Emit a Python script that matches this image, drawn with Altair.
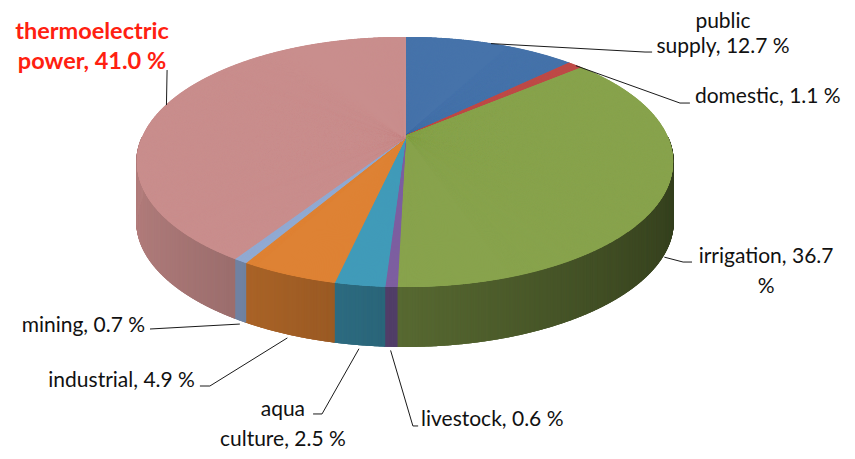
import numpy as np
import pandas as pd
import altair as alt

# ---------------- data ----------------
categories = ["public supply", "domestic", "irrigation", "livestock",
              "aquaculture", "industrial", "mining", "thermoelectric power"]
shares = [12.7, 1.1, 36.7, 0.6, 2.5, 4.9, 0.7, 41.0]
label_lines = [["public", "supply, 12.7 %"], ["domestic, 1.1 %"],
               ["irrigation, 36.7", "%"], ["livestock, 0.6 %"],
               ["aqua", "culture, 2.5 %"], ["industrial, 4.9 %"],
               ["mining, 0.7 %"], ["thermoelectric", "power, 41.0 %"]]

# ---------------- style / layout ----------------
top_colors = ["#4673AA", "#BE4B48", "#88A34D", "#7D5FA0",
              "#419BB9", "#DE8234", "#91AAD2", "#C98E8D"]
W, H = 839, 443
RX, RY = 262.6, 120.0          # px per unit
CX, CY = 397.0, 129.0          # pie centre inside plot (px)
P = 0.2                        # perspective strength
DEPTH = 0.5                    # side depth (units)
x_dom = [-CX / RX, (W - CX) / RX]
y_dom = [-(H - CY) / RY, CY / RY]

# label placement: elbow, end of leader, first text line anchor, line gap, alignment
label_layout = {
    "public supply": ((0.914, 0.708), (0.941, 0.708), (1.211, 0.962), 0.212, "center"),
    "domestic": ((1.047, 0.283), (1.085, 0.283), (1.104, 0.333), 0.25, "left"),
    "irrigation": ((1.059, -1.042), (1.093, -1.042), (1.375, -1.0), 0.25, "center"),
    "livestock": ((0.030, -2.408), (0.050, -2.408), (0.061, -2.358), 0.25, "left"),
    "aquaculture": ((-0.316, -2.308), (-0.350, -2.308), (-0.465, -2.275), 0.25, "center"),
    "industrial": ((-0.743, -2.075), (-0.781, -2.075), (-0.800, -2.033), 0.25, "right"),
    "mining": ((-0.971, -1.60), (-0.971, -1.60), (-0.990, -1.575), 0.25, "right"),
    "thermoelectric power": ((-0.906, 0.558), (-0.906, 0.558), (-1.192, 0.875), 0.25, "center"),
}


def project(theta_deg):
    t = np.radians(theta_deg)
    u, v = np.sin(t), np.cos(t)
    d = 1 + P * v
    return u / d, v / d


def shade_hex(hex_color, factor):
    rgb = [int(hex_color[k:k + 2], 16) for k in (1, 3, 5)]
    return "#" + "".join(f"{max(0, min(255, int(round(c * factor)))):02X}" for c in rgb)


total = sum(shares)
ends = np.cumsum(shares) / total * 360.0
starts = np.concatenate([[0.0], ends[:-1]])

top_rows, side_rows, lead_rows, text_rows = [], [], [], []
for i, cat in enumerate(categories):
    a0, a1 = starts[i], ends[i]
    n = max(6, int(np.ceil((a1 - a0) / 0.12)) + 1)
    for a in np.linspace(a0, a1, n):
        u, v = project(a)
        top_rows.append(dict(cat=cat, u0=0.0, v0=0.0, u=u, v=v))
    s0, s1 = max(a0, 90.0), min(a1, 270.0)
    if s1 > s0:
        n = max(6, int(np.ceil((s1 - s0) / 0.1)) + 1)
        for a in np.linspace(s0, s1, n):
            u, v = project(a)
            factor = 0.64 - 0.25 * np.sin(np.radians(a))
            side_rows.append(dict(cat=cat, u=u, v=v, v2=v - DEPTH,
                                  fill=shade_hex(top_colors[i], factor)))
    mid = (a0 + a1) / 2
    mu, mv = project(mid)
    if np.cos(np.radians(mid)) < 0:
        mv = mv - DEPTH - 0.03
    elbow, end, txt, gap, align = label_layout[cat]
    for k, (pu, pv) in enumerate([(mu, mv), elbow, end]):
        lead_rows.append(dict(cat=cat, step=k, u=pu, v=pv))
    for j, line in enumerate(label_lines[i]):
        text_rows.append(dict(cat=cat, text=line, u=txt[0], v=txt[1] - j * gap,
                              align=align, hot=(cat == "thermoelectric power")))

top_df = pd.DataFrame(top_rows)
side_df = pd.DataFrame(side_rows)
lead_df = pd.DataFrame(lead_rows)
text_df = pd.DataFrame(text_rows)

xs = alt.Scale(domain=x_dom, nice=False, zero=False)
ys = alt.Scale(domain=y_dom, nice=False, zero=False)
cs = alt.Scale(domain=categories, range=top_colors)

side = alt.Chart(side_df).mark_rule(strokeWidth=1.6).encode(
    x=alt.X("u:Q", scale=xs, axis=None),
    y=alt.Y("v:Q", scale=ys, axis=None),
    y2="v2:Q",
    color=alt.Color("fill:N", scale=None),
)
top = alt.Chart(top_df).mark_rule(strokeWidth=2).encode(
    x=alt.X("u0:Q", scale=xs, axis=None),
    y=alt.Y("v0:Q", scale=ys, axis=None),
    x2="u:Q",
    y2="v:Q",
    color=alt.Color("cat:N", scale=cs, legend=None),
)
leaders = alt.Chart(lead_df).mark_line(color="#1a1a1a", strokeWidth=1).encode(
    x=alt.X("u:Q", scale=xs, axis=None),
    y=alt.Y("v:Q", scale=ys, axis=None),
    detail="cat:N",
    order="step:Q",
)

layers = [side, top, leaders]
for align in ["left", "center", "right"]:
    for hot in [False, True]:
        sub = text_df[(text_df["align"] == align) & (text_df["hot"] == hot)]
        if sub.empty:
            continue
        layers.append(
            alt.Chart(sub).mark_text(
                align=align, baseline="middle", font="Lato",
                fontSize=23.5 if hot else 21,
                fontWeight="bold" if hot else "normal",
                color="#FF2010" if hot else "#111111",
            ).encode(
                x=alt.X("u:Q", scale=xs, axis=None),
                y=alt.Y("v:Q", scale=ys, axis=None),
                text="text:N",
            )
        )

chart = alt.layer(*layers).properties(
    width=W, height=H, padding=0, background="white"
).configure_view(stroke=None)

chart.save("out.html", embed_options={"renderer": "svg", "actions": False})
